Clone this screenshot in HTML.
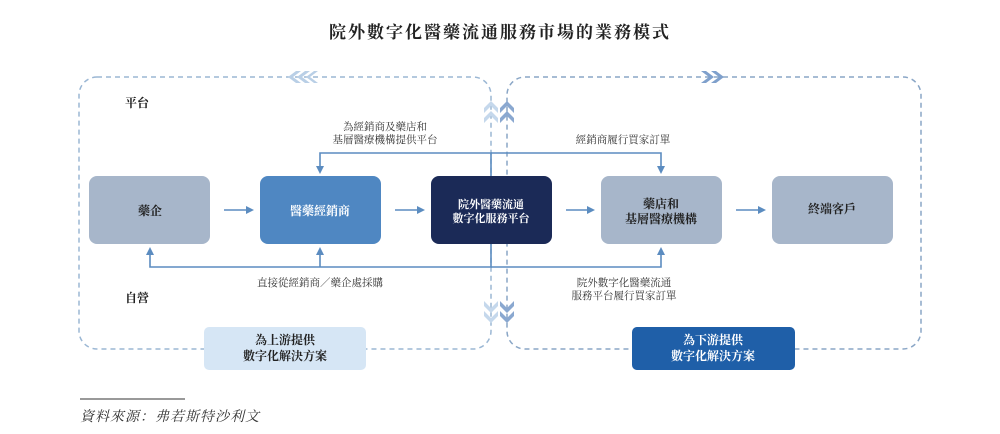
<!DOCTYPE html>
<html><head><meta charset="utf-8"><style>
html,body{margin:0;padding:0;background:#fff;}
svg text{font-family:"Liberation Serif","Noto Serif CJK SC","Noto Sans CJK TC",serif;}
</style></head><body>
<svg width="1000" height="429" viewBox="0 0 1000 429" xmlns="http://www.w3.org/2000/svg">
<defs>
<marker id="ah" markerWidth="8" markerHeight="8" refX="6" refY="4" orient="auto" markerUnits="userSpaceOnUse">
<path d="M0,0 L8,4 L0,8 Z" fill="#5b8cc0"/></marker>
</defs>
<text x="500" y="38" text-anchor="middle" font-size="17" font-weight="bold" fill="#222" letter-spacing="2">院外數字化醫藥流通服務市場的業務模式</text>

<rect x="79" y="77" width="412" height="272" rx="18" fill="none" stroke="#9bb7d4" stroke-width="1.5" stroke-dasharray="5,4"/>
<rect x="507" y="77" width="414" height="272" rx="18" fill="none" stroke="#8aa6c6" stroke-width="1.5" stroke-dasharray="5,4"/>

<g fill="#b9cfe6">
<path d="M288,77 l8,-6 h5 l-8,6 l8,6 h-5z"/><path d="M297,77 l8,-6 h5 l-8,6 l8,6 h-5z"/><path d="M306,77 l8,-6 h4 l-8,6 l8,6 h-4z"/>
</g>
<g fill="#7fa0cc">
<path d="M714,77 l-8,-6 h-5 l8,6 l-8,6 h5z"/><path d="M724,77 l-8,-6 h-5 l8,6 l-8,6 h5z"/>
</g>
<g fill="#c5d8ec">
<path d="M491,101 l-7,7 v5 l7,-7 l7,7 v-5z"/><path d="M491,111 l-7,7 v5 l7,-7 l7,7 v-5z"/>
<path d="M491,313 l-7,-7 v-5 l7,7 l7,-7 v5z"/><path d="M491,323 l-7,-7 v-5 l7,7 l7,-7 v5z"/>
</g>
<g fill="#8aa8d0">
<path d="M507,101 l-7,7 v5 l7,-7 l7,7 v-5z"/><path d="M507,111 l-7,7 v5 l7,-7 l7,7 v-5z"/>
<path d="M507,313 l-7,-7 v-5 l7,7 l7,-7 v5z"/><path d="M507,323 l-7,-7 v-5 l7,7 l7,-7 v5z"/>
</g>

<text x="125" y="107" font-size="12" font-weight="bold" fill="#222">平台</text>
<text x="125" y="302" font-size="12" font-weight="bold" fill="#222">自營</text>

<g stroke="#5b8cc0" stroke-width="1.6" fill="none">
<path d="M491,176 V153 H320 V172" marker-end="url(#ah)"/>
<path d="M491,153 H661 V172" marker-end="url(#ah)"/>
<path d="M491,244 V267 H150 V249" marker-end="url(#ah)"/>
<path d="M320,267 V249" marker-end="url(#ah)"/>
<path d="M491,267 H661 V249" marker-end="url(#ah)"/>
<path d="M224,210 H252" marker-end="url(#ah)"/>
<path d="M395,210 H423" marker-end="url(#ah)"/>
<path d="M566,210 H593" marker-end="url(#ah)"/>
<path d="M736,210 H764" marker-end="url(#ah)"/>
</g>

<rect x="89" y="176" width="121" height="68" rx="8" fill="#a7b6ca"/>
<rect x="260" y="176" width="121" height="68" rx="8" fill="#4f87c2"/>
<rect x="431" y="176" width="121" height="68" rx="8" fill="#1b2a57"/>
<rect x="601" y="176" width="121" height="68" rx="8" fill="#a7b6ca"/>
<rect x="772" y="176" width="121" height="68" rx="8" fill="#a7b6ca"/>
<g font-size="12" font-weight="bold" text-anchor="middle">
<text x="150" y="215" fill="#222">藥企</text>
<text x="320" y="215" fill="#fff">醫藥經銷商</text>
<text x="491" y="208" fill="#fff" font-size="11">院外醫藥流通</text>
<text x="491" y="222" fill="#fff" font-size="11">數字化服務平台</text>
<text x="661" y="208" fill="#222">藥店和</text>
<text x="661" y="223" fill="#222">基層醫療機構</text>
<text x="832" y="213" fill="#222">終端客戶</text>
</g>

<g font-size="10.5" fill="#333" text-anchor="middle">
<text x="385" y="130">為經銷商及藥店和</text>
<text x="385" y="143">基層醫療機構提供平台</text>
<text x="623" y="143">經銷商履行買家訂單</text>
<text x="320" y="286">直接從經銷商／藥企處採購</text>
<text x="624" y="286">院外數字化醫藥流通</text>
<text x="624" y="299">服務平台履行買家訂單</text>
</g>

<rect x="204" y="327" width="162" height="43" rx="5" fill="#d6e6f5"/>
<rect x="632" y="327" width="163" height="43" rx="5" fill="#1f5fa8"/>
<g font-size="12" font-weight="bold" text-anchor="middle">
<text x="285" y="344" fill="#222">為上游提供</text>
<text x="285" y="360" fill="#222">數字化解決方案</text>
<text x="713" y="344" fill="#fff">為下游提供</text>
<text x="713" y="360" fill="#fff">數字化解決方案</text>
</g>

<line x1="80" y1="399" x2="185" y2="399" stroke="#333" stroke-width="1"/>
<text x="80" y="421" font-size="14" font-style="italic" fill="#333" letter-spacing="1">資料來源：弗若斯特沙利文</text>
</svg>
</body></html>
